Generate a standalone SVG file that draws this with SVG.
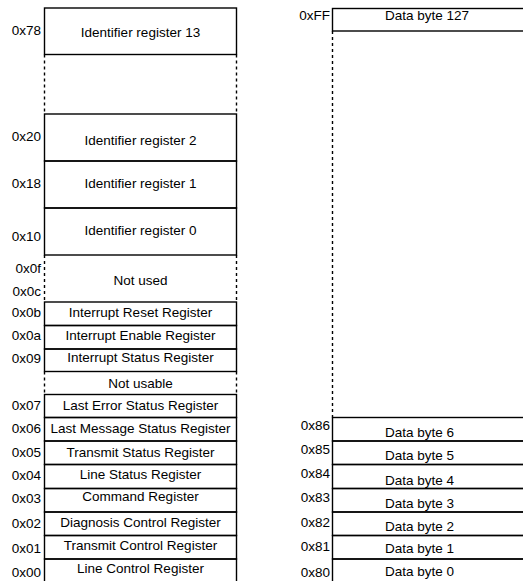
<svg xmlns="http://www.w3.org/2000/svg" width="523" height="581" viewBox="0 0 523 581">
<style>
.b{fill:none;stroke:#000;stroke-width:1.4}
.d{fill:none;stroke:#000;stroke-width:1.4;stroke-dasharray:3 3}
.l{fill:none;stroke:#000;stroke-width:1.4}
text{font-family:"Liberation Sans",Arial,Helvetica,sans-serif;font-size:13.5px;fill:#000}
.c{text-anchor:middle}
.r{text-anchor:end}
</style>
<rect width="523" height="581" fill="#fff"/>
<g id="left-map">
<g id="ir13"><rect class="b" x="44.5" y="8" width="192" height="46.5"/><text class="r" x="41" y="35">0x78</text><text class="c" x="140.5" y="37">Identifier register 13</text></g>
<g id="gap-ir"><line class="d" x1="44.5" y1="54.5" x2="44.5" y2="114"/><line class="d" x1="236.5" y1="54.5" x2="236.5" y2="114"/></g>
<g id="ir2"><rect class="b" x="44.5" y="114" width="192" height="47"/><text class="r" x="41" y="140.5">0x20</text><text class="c" x="140.5" y="144.5">Identifier register 2</text></g>
<g id="ir1"><rect class="b" x="44.5" y="161" width="192" height="47"/><text class="r" x="41" y="188">0x18</text><text class="c" x="140.5" y="188">Identifier register 1</text></g>
<g id="ir0"><rect class="b" x="44.5" y="208" width="192" height="47"/><text class="r" x="41" y="241">0x10</text><text class="c" x="140.5" y="234.5">Identifier register 0</text></g>
<g id="not-used"><line class="d" x1="44.5" y1="255" x2="44.5" y2="302"/><line class="d" x1="236.5" y1="255" x2="236.5" y2="302"/><text class="r" x="41" y="273">0x0f</text><text class="r" x="41" y="296">0x0c</text><text class="c" x="140.5" y="284.5">Not used</text></g>
<g id="irr"><rect class="b" x="44.5" y="302" width="192" height="23.5"/><text class="r" x="41" y="316.5">0x0b</text><text class="c" x="140.5" y="316.5">Interrupt Reset Register</text></g>
<g id="ier"><rect class="b" x="44.5" y="325.5" width="192" height="23.5"/><text class="r" x="41" y="339.5">0x0a</text><text class="c" x="140.5" y="339.5">Interrupt Enable Register</text></g>
<g id="isr"><rect class="b" x="44.5" y="349" width="192" height="22.5"/><text class="r" x="41" y="363">0x09</text><text class="c" x="140.5" y="361.5">Interrupt Status Register</text></g>
<g id="not-usable"><line class="d" x1="44.5" y1="371.5" x2="44.5" y2="394.5"/><line class="d" x1="236.5" y1="371.5" x2="236.5" y2="394.5"/><text class="c" x="140.5" y="388">Not usable</text></g>
<g id="lesr"><rect class="b" x="44.5" y="394.5" width="192" height="23"/><text class="r" x="41" y="410">0x07</text><text class="c" x="140.5" y="410">Last Error Status Register</text></g>
<g id="lmsr"><rect class="b" x="44.5" y="417.5" width="192" height="23.5"/><text class="r" x="41" y="433">0x06</text><text class="c" x="140.5" y="433">Last Message Status Register</text></g>
<g id="tsr"><rect class="b" x="44.5" y="441" width="192" height="23.5"/><text class="r" x="41" y="456.5">0x05</text><text class="c" x="140.5" y="456.5">Transmit Status Register</text></g>
<g id="lsr"><rect class="b" x="44.5" y="464.5" width="192" height="24"/><text class="r" x="41" y="480">0x04</text><text class="c" x="140.5" y="478.5">Line Status Register</text></g>
<g id="cr"><rect class="b" x="44.5" y="488.5" width="192" height="23.5"/><text class="r" x="41" y="503">0x03</text><text class="c" x="140.5" y="500.5">Command Register</text></g>
<g id="dcr"><rect class="b" x="44.5" y="512" width="192" height="23.5"/><text class="r" x="41" y="528">0x02</text><text class="c" x="140.5" y="526.5">Diagnosis Control Register</text></g>
<g id="tcr"><rect class="b" x="44.5" y="535.5" width="192" height="23.5"/><text class="r" x="41" y="552.5">0x01</text><text class="c" x="140.5" y="550">Transmit Control Register</text></g>
<g id="lcr"><rect class="b" x="44.5" y="559" width="192" height="24"/><text class="r" x="41" y="577">0x00</text><text class="c" x="140.5" y="573">Line Control Register</text></g>
</g>
<g id="right-map">
<g id="db127"><rect class="b" x="332.5" y="8.5" width="200" height="22.5"/><text class="r" x="330" y="20">0xFF</text><text x="385" y="20">Data byte 127</text></g>
<g id="gap-db"><line class="d" x1="332.5" y1="31" x2="332.5" y2="417.5"/></g>
<g id="db6"><rect class="b" x="332.5" y="417.5" width="200" height="23.5"/><text class="r" x="330" y="430">0x86</text><text x="385" y="436.5">Data byte 6</text></g>
<g id="db5"><rect class="b" x="332.5" y="441" width="200" height="23.5"/><text class="r" x="330" y="453.5">0x85</text><text x="385" y="459.5">Data byte 5</text></g>
<g id="db4"><rect class="b" x="332.5" y="464.5" width="200" height="24"/><text class="r" x="330" y="478">0x84</text><text x="385" y="484.5">Data byte 4</text></g>
<g id="db3"><rect class="b" x="332.5" y="488.5" width="200" height="23.5"/><text class="r" x="330" y="501.5">0x83</text><text x="385" y="508">Data byte 3</text></g>
<g id="db2"><rect class="b" x="332.5" y="512" width="200" height="23.5"/><text class="r" x="330" y="526.5">0x82</text><text x="385" y="531">Data byte 2</text></g>
<g id="db1"><rect class="b" x="332.5" y="535.5" width="200" height="23.5"/><text class="r" x="330" y="551">0x81</text><text x="385" y="553">Data byte 1</text></g>
<g id="db0"><rect class="b" x="332.5" y="559" width="200" height="24"/><text class="r" x="330" y="577">0x80</text><text x="385" y="576">Data byte 0</text></g>
</g>
<g id="connectors"/>
</svg>
